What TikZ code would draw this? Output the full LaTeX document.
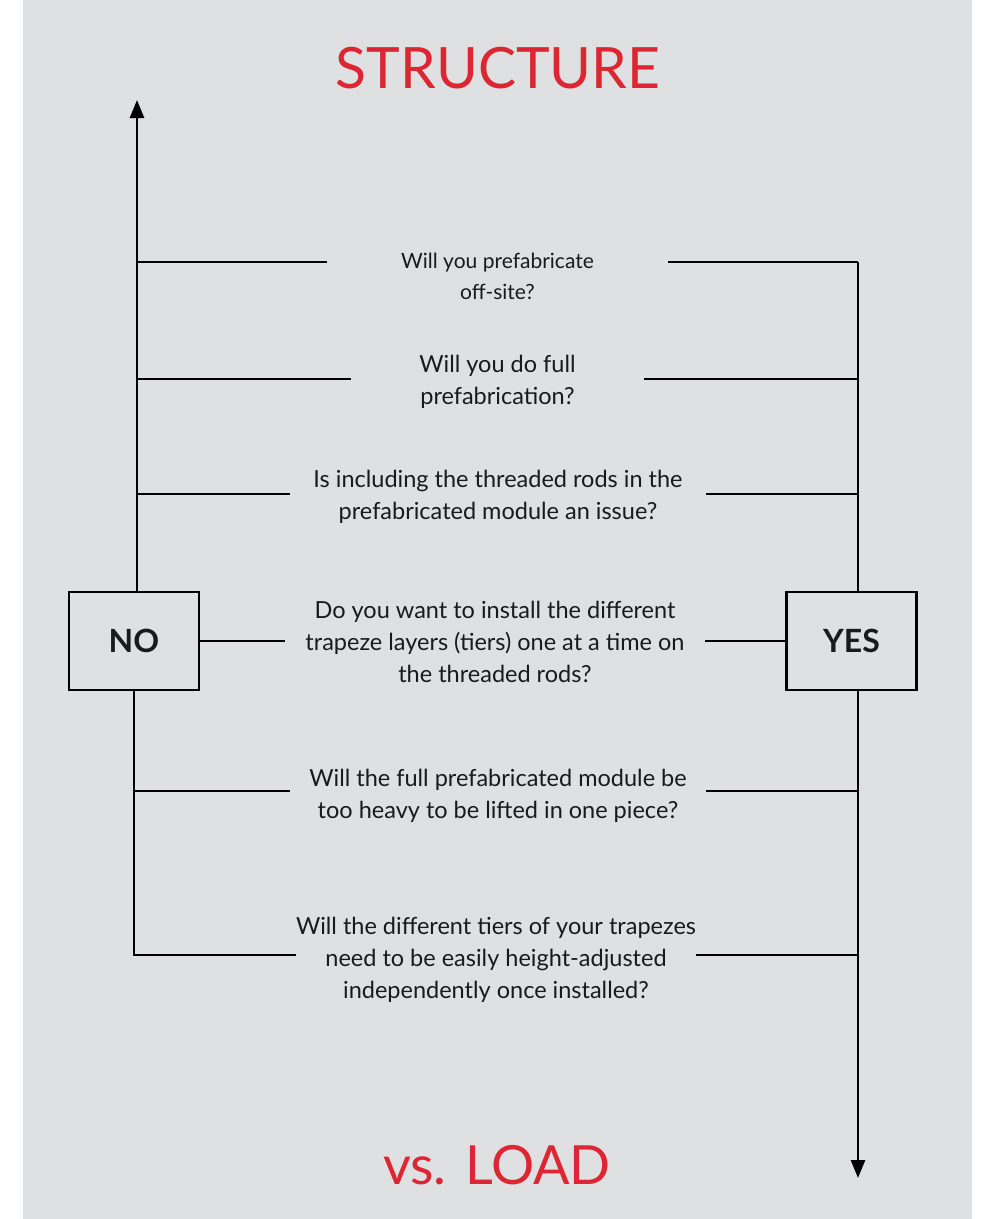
\documentclass[tikz,border=0pt]{standalone}
\usepackage{fontspec}
\setmainfont{Lato}
\usetikzlibrary{arrows.meta}
\definecolor{panelgray}{HTML}{DFE0E2}
\definecolor{titlered}{HTML}{DC2632}
\definecolor{inkblack}{HTML}{1A1A1A}
\tikzset{
  question/.style={align=center, inner sep=0pt, text=inkblack,
    font=\fontsize{23.5}{32}\selectfont},
  answer/.style={draw, line width=2.5pt, minimum width=130pt, minimum height=98pt,
    text=inkblack, font=\fontsize{32}{36}\selectfont\bfseries},
  title/.style={text=titlered, font=\fontsize{57}{60}\selectfont},
  wire/.style={line width=2.6pt},
  tip/.style={-{Triangle[length=18pt,width=14pt]}},
}
\begin{document}
\begin{tikzpicture}[x=1pt,y=-1pt]
  \useasboundingbox (0,0) rectangle (988,1219);
  \fill[panelgray] (23,0) rectangle (972,1219);

  % titles
  \node[title] (head) at (498,68) {STRUCTURE};
  \node[title, font=\fontsize{54}{60}\selectfont] (foot) at (497,1165) {vs. LOAD};

  % answers
  \node[answer] (no) at (134,641) {NO};
  \node[answer] (yes) at (851.5,641) {YES};

  % questions
  \node[question, minimum width=341pt, font=\fontsize{21}{31}\selectfont] (q1) at (497.5,276) {Will you prefabricate\\off-site?};
  \node[question, minimum width=293pt] (q2) at (497.5,382) {Will you do full\\prefabrication?};
  \node[question, minimum width=416pt] (q3) at (498,497) {Is including the threaded rods in the\\prefabricated module an issue?};
  \node[question, minimum width=420pt] (q4) at (495,642) {Do you want to install the different\\trapeze layers (tiers) one at a time on\\the threaded rods?};
  \node[question, minimum width=416pt] (q5) at (498,796) {Will the full prefabricated module be\\too heavy to be lifted in one piece?};
  \node[question, minimum width=392pt] (q6) at (496,960) {Will the different tiers of your trapezes\\need to be easily height-adjusted\\independently once installed?};

  \coordinate (ltop) at (137,100);
  \coordinate (rtop) at (858,262);
  \coordinate (lbot) at (134,955);
  \coordinate (rbot) at (858,1178);

  % spines
  \draw[wire, tip] (no.north -| ltop) -- (ltop);
  \draw[wire] (rtop) -- (yes.north -| rtop);
  \draw[wire] (no.south) -- (lbot) -- (lbot -| q6.west);
  \draw[wire, tip] (yes.south -| rbot) -- (rbot);

  % branches
  \draw[wire] ([yshift=14pt]q1.west) -- ([yshift=14pt]q1.west -| ltop);
  \draw[wire] ([yshift=14pt]q1.east) -- (rtop);
  \draw[wire] ([yshift=3pt]q2.west) -- ([yshift=3pt]q2.west -| ltop);
  \draw[wire] ([yshift=3pt]q2.east) -- ([yshift=3pt]q2.east -| rtop);
  \draw[wire] ([yshift=3pt]q3.west) -- ([yshift=3pt]q3.west -| ltop);
  \draw[wire] ([yshift=3pt]q3.east) -- ([yshift=3pt]q3.east -| rtop);
  \draw[wire] (no.east) -- (no.east -| q4.west);
  \draw[wire] (no.east -| q4.east) -- (yes.west);
  \draw[wire] ([yshift=5pt]q5.west) -- ([yshift=5pt]q5.west -| lbot);
  \draw[wire] ([yshift=5pt]q5.east) -- ([yshift=5pt]q5.east -| rtop);
  \draw[wire] (lbot -| q6.east) -- (lbot -| rtop);
\end{tikzpicture}
\end{document}
